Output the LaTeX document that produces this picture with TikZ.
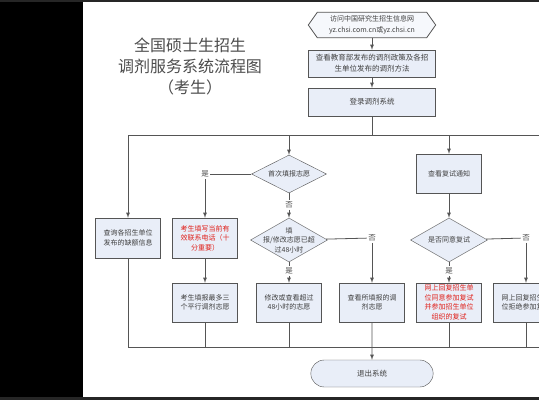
\documentclass[tikz,border=0pt]{standalone}
\usepackage{fontspec}
\setmainfont{Noto Sans CJK SC}
\usetikzlibrary{shapes.geometric,shapes.misc}
\definecolor{boxfill}{HTML}{E9EEF8}
\definecolor{linegray}{HTML}{555555}
\definecolor{redtext}{HTML}{E0201A}

\begin{document}
\begin{tikzpicture}[x=1pt,y=-1pt,>=latex,
	line/.style={draw=linegray,line width=0.8pt},
	box/.style={draw=linegray,fill=boxfill,minimum width=65pt,minimum height=39pt,align=center,
		font=\fontsize{7}{9.5}\selectfont,text=black!75,inner sep=1pt},
	widebox/.style={box,minimum width=127pt,minimum height=27pt,font=\fontsize{7.5}{11}\selectfont},
	redbox/.style={box,text=redtext},
	choice/.style={diamond,draw=linegray,fill=boxfill,minimum width=77pt,minimum height=44pt,inner sep=0pt,
		label={[align=center,font=\fontsize{7}{9.5}\selectfont,text=black!75]center:#1}},
	tag/.style={font=\fontsize{7.5}{8}\selectfont,text=black!70,inner sep=1.5pt,fill=white}]

	  \useasboundingbox (0,0) rectangle (539,400);
	  \fill[white] (0,0) rectangle (539,400);
	  % dark frame of the screenshot
	  \fill[black] (0,0) rectangle (83,400);
	  \fill[black!85] (0,0) rectangle (539,2);
	  \fill[black!85] (0,397) rectangle (539,400);

	  % title
	  \node[align=center,font=\fontsize{16}{21}\selectfont,text=black!70] (title) at (190,66)
	    {全国硕士生招生\\调剂服务系统流程图\\（考生）};

	  % top of the flow
	  \node[align=center,font=\fontsize{7}{10.5}\selectfont,text=black!75,minimum width=127pt,minimum height=25pt,inner sep=0pt]
	    (web) at (372,25) {访问中国研究生招生信息网\\yz.chsi.com.cn或yz.chsi.cn};
	  \draw[line,fill=boxfill!40] ([xshift=9pt]web.north west) -- ([xshift=-9pt]web.north east) -- (web.east)
	    -- ([xshift=-9pt]web.south east) -- ([xshift=9pt]web.south west) -- (web.west) -- cycle;
	  \node[align=center,font=\fontsize{7}{10.5}\selectfont,text=black!75] at (web) {访问中国研究生招生信息网\\yz.chsi.com.cn或yz.chsi.cn};
	  \node[widebox] (policy) at (372,63.5) {查看教育部发布的调剂政策及各招\\生单位发布的调剂方法};
	  \node[widebox,minimum height=28pt] (login) at (372,102) {登录调剂系统};

	  % branches
	  \node[box,minimum height=40pt] (vacancy) at (128,238) {查询各招生单位\\发布的缺额信息};
	  \node[choice={首次填报志愿},minimum width=75pt,minimum height=38pt] (first) at (289,174) {};
	  \node[redbox,minimum height=40pt] (phone) at (205,238) {考生填写当前有\\效联系电话（十\\分重要）};
	  \node[choice={填\\报/修改志愿已超\\过48小时}] (hours) at (289,240) {};
	  \node[box] (notice) at (449,173.5) {查看复试通知};
	  \node[choice={是否同意复试}] (agree) at (449,240) {};

	  \node[box] (choose) at (205,302.5) {考生填报最多三\\个平行调剂志愿};
	  \node[box] (modify) at (289,302.5) {修改或查看超过\\48小时的志愿};
	  \node[box] (view) at (372,302.5) {查看所填报的调\\剂志愿};
	  \node[redbox] (accept) at (449,302.5) {网上回复招生单\\位同意参加复试\\并参加招生单位\\组织的复试};
	  \node[box] (refuse) at (526,302.5) {网上回复招生单\\位拒绝参加复试};

	  \node[rounded rectangle,draw=linegray,fill=boxfill,minimum width=129pt,minimum height=27pt,
	    font=\fontsize{7.5}{9}\selectfont,text=black!75] (quit) at (372,373.5) {退出系统};

	  % yes / no tags
	  \node[tag] (yesfirst) at (205,174) {是};
	  \node[tag] (nofirst) at (289,205) {否};
	  \node[tag] (nohours) at (372,238) {否};
	  \node[tag] (yeshours) at (289,271) {是};
	  \node[tag] (noagree) at (526,238) {否};
	  \node[tag] (yesagree) at (449,271) {是};

	  \coordinate (topleft) at (128,135);
	  \coordinate (topright) at (539,135);
	  \coordinate (botleft) at (128,347);
	  \coordinate (botright) at (539,347);

	  % connectors
	  \draw[line,->] (web) -- (policy);
	  \draw[line,->] (policy) -- (login);
	  \draw[line] (login) -- (login |- topleft);
	  \draw[line] (topleft) -- (topright);
	  \draw[line,->] (topleft) -- (vacancy);
	  \draw[line,->] (first |- topleft) -- (first);
	  \draw[line,->] (notice |- topleft) -- (notice);

	  \draw[line] (first) -- (yesfirst);
	  \draw[line,->] (yesfirst) -- (phone);
	  \draw[line,->] (phone) -- (choose);
	  \draw[line] (first) -- (nofirst);
	  \draw[line,->] (nofirst) -- (hours);
	  \draw[line] (hours) -- (nohours);
	  \draw[line,->] (nohours) -- (view);
	  \draw[line] (hours) -- (yeshours);
	  \draw[line,->] (yeshours) -- (modify);

	  \draw[line,->] (notice) -- (agree);
	  \draw[line] (agree) -- (noagree);
	  \draw[line,->] (noagree) -- (refuse);
	  \draw[line] (agree) -- (yesagree);
	  \draw[line,->] (yesagree) -- (accept);

	  \draw[line] (vacancy) -- (botleft) -- (botright);
	  \draw[line] (choose) -- (choose |- botleft);
	  \draw[line] (modify) -- (modify |- botleft);
	  \draw[line] (accept) -- (accept |- botleft);
	  \draw[line] (refuse) -- (refuse |- botleft);
	  \draw[line,->] (view) -- (quit);

	\end{tikzpicture}
\end{document}
